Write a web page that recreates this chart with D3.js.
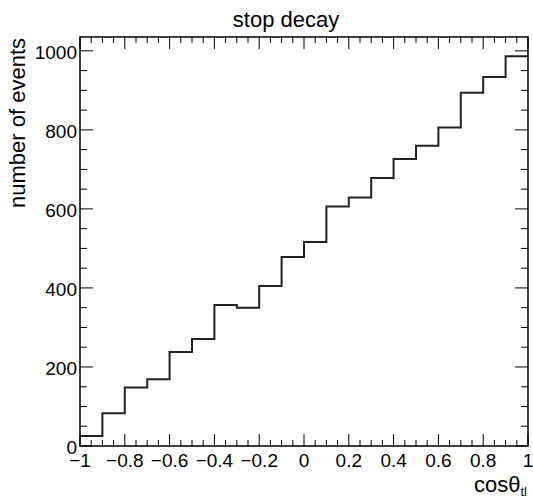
<!DOCTYPE html>
<html><head><meta charset="utf-8">
<script src="https://cdn.jsdelivr.net/npm/d3@7"></script>
<style>body{margin:0;background:#fff}svg{display:block}text{font-family:"Liberation Sans",Arial,sans-serif;fill:#000}</style>
</head><body><svg id="c" width="533" height="499"></svg>
<script>
const binEdges = [-1,-0.9,-0.8,-0.7,-0.6,-0.5,-0.4,-0.3,-0.2,-0.1,0,0.1,0.2,0.3,0.4,0.5,0.6,0.7,0.8,0.9,1];
const counts = [25,83,148,169,238,271,357,350,405,478,516,606,629,678,726,760,806,894,934,986];
const xTicks = [-1,-0.8,-0.6,-0.4,-0.2,0,0.2,0.4,0.6,0.8,1];
const yTicks = [0,200,400,600,800,1000];
const title = "stop decay";
const yTitle = "number of events";

const L=80,R=528,T=37,B=446;
const svg=d3.select("#c");
const x=d3.scaleLinear().domain([-1,1]).range([L,R]);
const y=d3.scaleLinear().domain([0,1035]).range([B,T]);

// minor ticks
const xMinor=d3.range(-1,1.0001,0.05);
const yMinor=d3.range(0,1035,50);
const g=svg.append("g").attr("stroke","#000").attr("stroke-width",1);
xMinor.forEach(v=>{
  const major=xTicks.some(t=>Math.abs(t-v)<1e-6);
  const len=major?12:6;
  g.append("line").attr("x1",x(v)).attr("x2",x(v)).attr("y1",B).attr("y2",B-len);
  g.append("line").attr("x1",x(v)).attr("x2",x(v)).attr("y1",T).attr("y2",T+len);
});
yMinor.forEach(v=>{
  const major=yTicks.includes(v);
  const len=major?13:7;
  g.append("line").attr("y1",y(v)).attr("y2",y(v)).attr("x1",L).attr("x2",L+len);
  g.append("line").attr("y1",y(v)).attr("y2",y(v)).attr("x1",R).attr("x2",R-len);
});

// histogram
const pts=[];
counts.forEach((c,i)=>{pts.push([x(binEdges[i]),y(c)]);pts.push([x(binEdges[i+1]),y(c)]);});
svg.append("path").attr("d",d3.line()(pts)).attr("fill","none").attr("stroke","#222").attr("stroke-width",2);

// frame
svg.append("rect").attr("x",L).attr("y",T).attr("width",R-L).attr("height",B-T).attr("fill","none").attr("stroke","#000").attr("stroke-width",1.5);

// labels
const fmt=v=>(v<0?"\u2212":"")+String(Math.abs(v));
svg.append("g").selectAll("text").data(xTicks).join("text")
  .attr("x",d=>x(d)).attr("y",467).attr("text-anchor","middle").attr("font-size",19).text(fmt);
svg.append("g").selectAll("text").data(yTicks).join("text")
  .attr("x",77).attr("y",d=>y(d)+8).attr("text-anchor","end").attr("font-size",19).text(d=>d);

svg.append("text").attr("x",286).attr("y",27).attr("text-anchor","middle").attr("font-size",22).text(title);
svg.append("text").attr("transform","translate(25,38) rotate(-90)").attr("text-anchor","end").attr("font-size",22).text(yTitle);
const xl=svg.append("text").attr("x",527).attr("y",492).attr("text-anchor","end").attr("font-size",22);
xl.append("tspan").text("cos\u03B8");
xl.append("tspan").attr("font-size",13).attr("dy",4).text("tl");
</script></body></html>
